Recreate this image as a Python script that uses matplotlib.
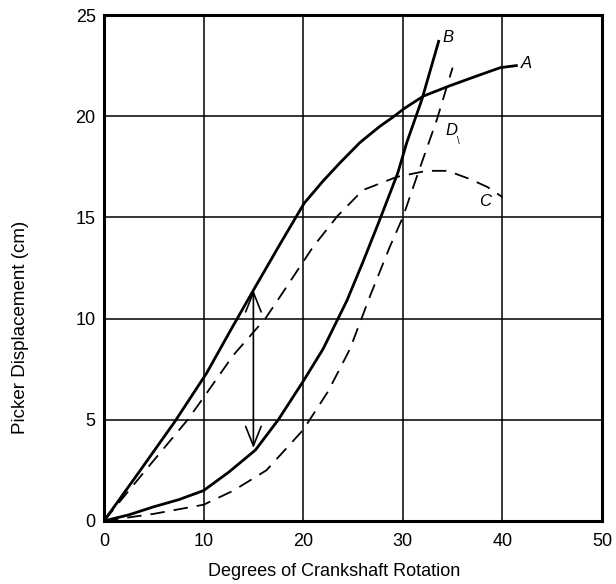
import numpy as np
import matplotlib.pyplot as plt

# Picker displacement vs crankshaft rotation, four curves
a_x = [0, 3.5, 7.1, 10.3, 12.8, 15.0, 17.7, 20.1, 22.0, 23.7, 25.7, 27.7, 29.0, 30.2, 32.1, 34.7, 37.5, 39.8, 41.4]
a_y = [0, 2.4, 4.9, 7.3, 9.5, 11.4, 13.7, 15.7, 16.8, 17.7, 18.7, 19.5, 19.95, 20.4, 21.0, 21.5, 22.0, 22.4, 22.5]

b_x = [0, 2.5, 5, 7.5, 10, 12.5, 15.2, 17.5, 20, 22.0, 24.4, 26, 27.7, 29.5, 30.4, 31.9, 33.6]
b_y = [0, 0.3, 0.7, 1.05, 1.5, 2.4, 3.5, 5.0, 6.9, 8.5, 10.9, 12.8, 14.9, 17.2, 18.7, 20.8, 23.7]

c_x = [0, 4, 8.4, 10, 13, 16.2, 17.7, 21, 23.5, 26.0, 29.4, 32.4, 34.5, 36.7, 38.5, 40]
c_y = [0, 2.4, 5.0, 6.1, 8.2, 10.0, 11.1, 13.55, 15.1, 16.35, 17.0, 17.3, 17.3, 16.9, 16.5, 16.0]

d_x = [0, 5, 10, 13, 16.3, 20, 22.5, 24.7, 26.7, 28.7, 30.0, 31.4, 33.4, 35.0]
d_y = [0, 0.35, 0.8, 1.5, 2.5, 4.5, 6.4, 8.5, 11.1, 13.55, 15.0, 17.0, 19.8, 22.4]

labels = ["A", "B", "C", "D"]
label_x = [42.4, 34.5, 38.3, 34.9]
label_y = [22.6, 23.9, 15.8, 19.3]

arrow_x = 15.0
arrow_top = 11.4
arrow_bottom = 3.6

fig = plt.figure(figsize=(6.16, 5.84), dpi=100)
ax = fig.add_axes([0.1688, 0.108, 0.8085, 0.8663])

ax.plot(a_x, a_y, color="black", lw=2.0)
ax.plot(b_x, b_y, color="black", lw=2.0)
ax.plot(c_x, c_y, color="black", lw=1.3, ls=(0, (8, 5)))
ax.plot(d_x, d_y, color="black", lw=1.3, ls=(0, (8, 5)))

for lab, lx, ly in zip(labels, label_x, label_y):
    ax.text(lx, ly, lab, fontsize=12, style="italic", ha="center", va="center",
            family="Liberation Sans")
# small tick after the D label
ax.text(label_x[3] + 0.7, label_y[3] - 0.55, "\\", fontsize=7,
        ha="center", va="center", family="Liberation Sans")

ax.annotate("", xy=(arrow_x, arrow_top), xytext=(arrow_x, arrow_bottom),
            arrowprops=dict(arrowstyle="<->,head_length=0.7,head_width=0.28",
                            color="black", lw=1.2, mutation_scale=20,
                            shrinkA=0, shrinkB=0))

ax.set_xlim(0, 50)
ax.set_ylim(0, 25)
ax.set_xticks(range(0, 51, 10))
ax.set_yticks(range(0, 26, 5))
ax.grid(True, color="black", lw=1.1)
ax.tick_params(length=0, labelsize=13)
ax.tick_params(axis="x", pad=9)
ax.tick_params(axis="y", pad=6)
for lbl in ax.get_xticklabels() + ax.get_yticklabels():
    lbl.set_family("Liberation Sans")
for s in ax.spines.values():
    s.set_linewidth(2.2)

ax.set_xlabel("Degrees of Crankshaft Rotation", fontsize=13, family="Liberation Sans")
ax.xaxis.set_label_coords(0.462, -0.10)
ax.xaxis.label.set_va("center")
ax.set_ylabel("Picker Displacement (cm)", fontsize=13.5, family="Liberation Sans")
ax.yaxis.set_label_coords(-0.167, 0.382)
ax.yaxis.label.set_va("center")

fig.savefig("out.png", dpi=100)
